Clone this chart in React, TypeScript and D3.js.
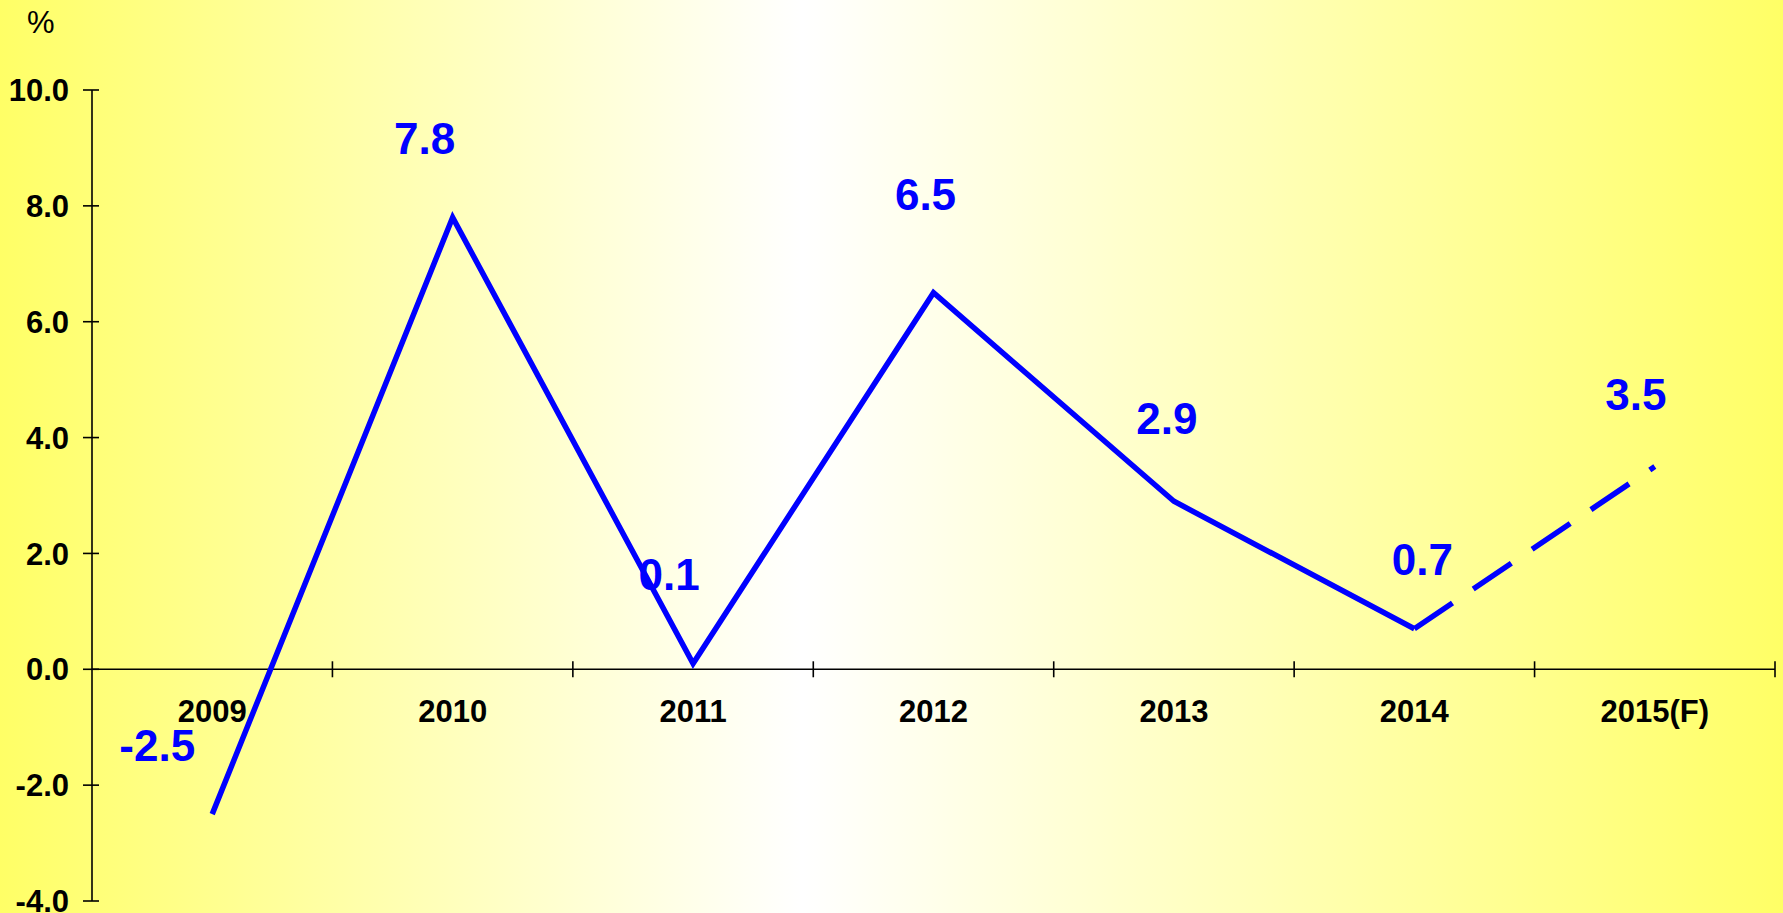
import { useEffect, useRef } from "react"
import * as d3 from "d3"

// chart values
const years = ["2009", "2010", "2011", "2012", "2013", "2014", "2015(F)"]
const growth = [-2.5, 7.8, 0.1, 6.5, 2.9, 0.7, 3.5]
const yTicks = [-4, -2, 0, 2, 4, 6, 8, 10]
const forecastFrom = 5 // index of last actual year; line is dashed after it

// label placement relative to each point (hand placed in the original)
const labelNudge: [number, number][] = [
  [-55, -53],
  [-28, -63],
  [-24, -73],
  [-8, -83],
  [-7, -67],
  [8, -54],
  [-19, -57],
]

const W = 1783
const H = 913

export default function App() {
  const svgRef = useRef<SVGSVGElement>(null)

  useEffect(() => {
    document.body.style.margin = "0"
    document.body.style.overflow = "hidden"
    if (!svgRef.current) return

    const svg = d3.select(svgRef.current)
    svg.selectAll("*").remove()

    const margin = { top: 90, right: 8, bottom: 12, left: 92 }
    const font = "Liberation Sans, Arial, sans-serif"

    // background gradient: yellow edges, white middle
    const defs = svg.append("defs")
    const grad = defs.append("linearGradient")
      .attr("id", "bg")
      .attr("x1", "0%").attr("x2", "100%")
      .attr("y1", "0%").attr("y2", "0%")
    grad.append("stop").attr("offset", "0%").attr("stop-color", "#ffff66")
    grad.append("stop").attr("offset", "45%").attr("stop-color", "#ffffff")
    grad.append("stop").attr("offset", "100%").attr("stop-color", "#ffff66")

    svg.append("rect")
      .attr("width", W)
      .attr("height", H)
      .attr("fill", "url(#bg)")

    const x = d3.scaleBand<string>()
      .domain(years)
      .range([margin.left, W - margin.right])
      .padding(0)

    const y = d3.scaleLinear()
      .domain([-4, 10])
      .range([H - margin.bottom, margin.top])

    const cx = (i: number) => (x(years[i]) ?? 0) + x.bandwidth() / 2

    // y axis line + ticks crossing it
    const yAxis = svg.append("g")
    yAxis.append("line")
      .attr("x1", margin.left).attr("x2", margin.left)
      .attr("y1", y(10)).attr("y2", y(-4))
      .attr("stroke", "#000").attr("stroke-width", 1.6)

    yAxis.selectAll("line.tick")
      .data(yTicks)
      .enter().append("line")
      .attr("class", "tick")
      .attr("x1", margin.left - 9).attr("x2", margin.left + 7)
      .attr("y1", d => y(d)).attr("y2", d => y(d))
      .attr("stroke", "#000").attr("stroke-width", 1.6)

    yAxis.selectAll("text")
      .data(yTicks)
      .enter().append("text")
      .attr("x", margin.left - 23)
      .attr("y", d => y(d))
      .attr("dy", "0.36em")
      .attr("text-anchor", "end")
      .style("font-family", font)
      .style("font-weight", "bold")
      .style("font-size", "31px")
      .text(d => d.toFixed(1))

    // % unit
    svg.append("text")
      .attr("x", 27)
      .attr("y", 33)
      .style("font-family", font)
      .style("font-size", "31px")
      .text("%")

    // x axis at zero
    const y0 = y(0)
    const xAxis = svg.append("g")
    xAxis.append("line")
      .attr("x1", margin.left).attr("x2", W - margin.right)
      .attr("y1", y0).attr("y2", y0)
      .attr("stroke", "#000").attr("stroke-width", 1.6)

    const bounds = years.map(c => (x(c) ?? 0) + x.bandwidth())
    xAxis.selectAll("line.tick")
      .data(bounds)
      .enter().append("line")
      .attr("class", "tick")
      .attr("x1", d => d).attr("x2", d => d)
      .attr("y1", y0 - 8).attr("y2", y0 + 8)
      .attr("stroke", "#000").attr("stroke-width", 1.6)

    xAxis.selectAll("text")
      .data(years)
      .enter().append("text")
      .attr("x", (_, i) => cx(i))
      .attr("y", y0 + 53)
      .attr("text-anchor", "middle")
      .style("font-family", font)
      .style("font-weight", "bold")
      .style("font-size", "31px")
      .text(d => d)

    // line: solid for actuals, dashed for forecast
    const line = d3.line<number>()
      .x(i => cx(i))
      .y(i => y(growth[i]))

    const idx = growth.map((_, i) => i)
    const actual = idx.slice(0, forecastFrom + 1)
    const forecast = idx.slice(forecastFrom)

    svg.append("path")
      .attr("d", line(actual))
      .attr("fill", "none")
      .attr("stroke", "#0000ff")
      .attr("stroke-width", 5.5)

    svg.append("path")
      .attr("d", line(forecast))
      .attr("fill", "none")
      .attr("stroke", "#0000ff")
      .attr("stroke-width", 5.5)
      .attr("stroke-dasharray", "46,25")

    // value labels
    svg.append("g")
      .selectAll("text")
      .data(growth)
      .enter().append("text")
      .attr("x", (_, i) => cx(i) + labelNudge[i][0])
      .attr("y", (d, i) => y(d) + labelNudge[i][1])
      .attr("text-anchor", "middle")
      .attr("fill", "#0000ff")
      .style("font-family", font)
      .style("font-weight", "bold")
      .style("font-size", "44px")
      .text(d => d.toFixed(1))
  }, [])

  return (
    <div style={{ width: W, height: H }}>
      <svg ref={svgRef} width={W} height={H} style={{ display: "block" }} />
    </div>
  )
}
